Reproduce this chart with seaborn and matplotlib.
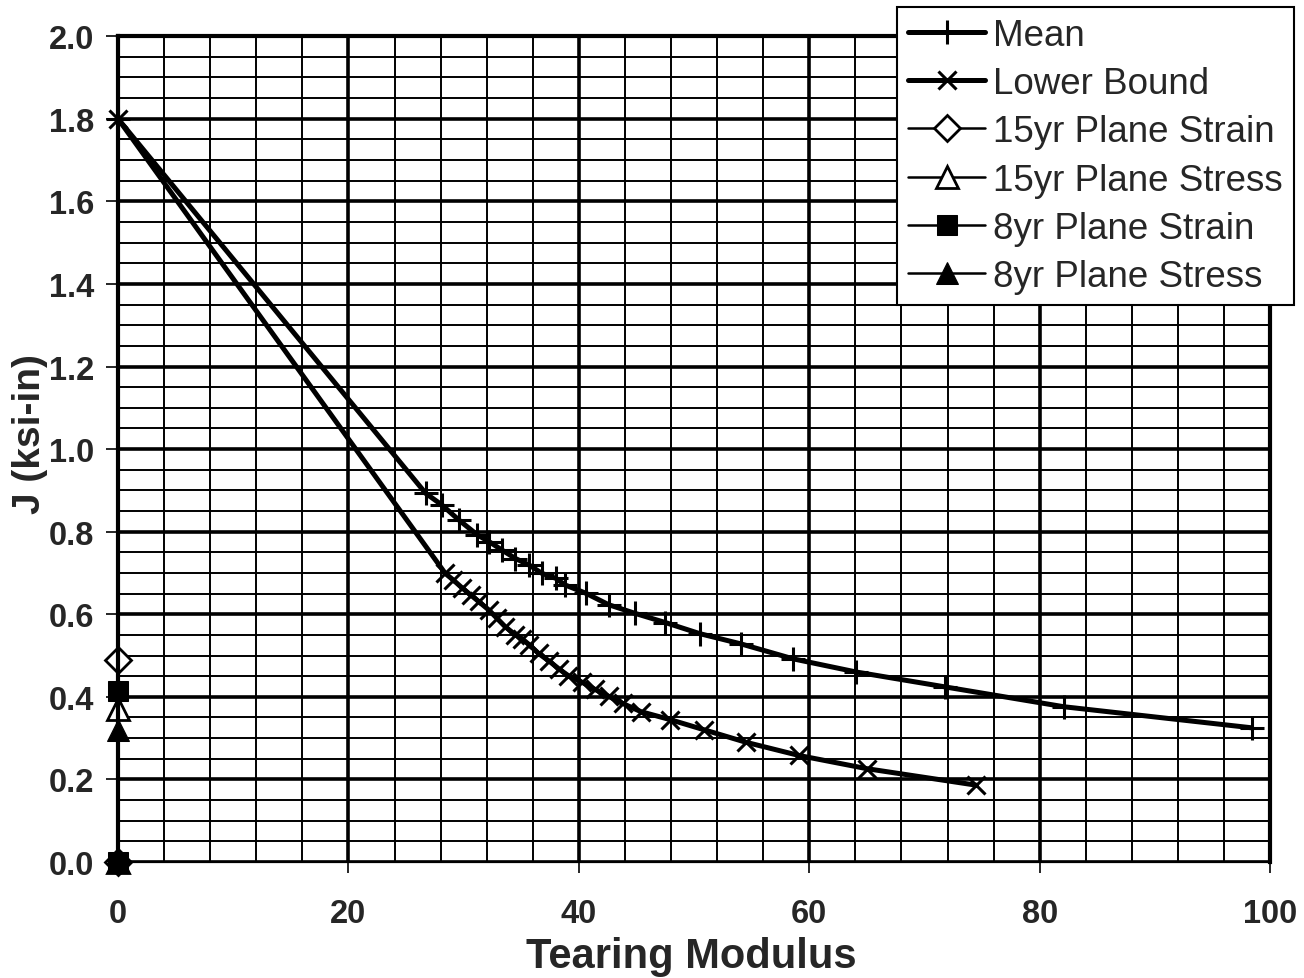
import matplotlib
matplotlib.use("Agg")
import matplotlib.pyplot as plt
import seaborn as sns
import numpy as np
from matplotlib.ticker import MultipleLocator

# Mean J-T curve
mean_T = [0, 26.7, 28.1, 29.6, 31.2, 32.2, 33.3, 34.5, 35.7, 36.8, 38.0, 38.8,
          40.6, 42.6, 44.9, 47.5, 50.5, 54.1, 58.6, 64.1, 71.8, 82.1, 98.4]
mean_J = [1.8, 0.893, 0.865, 0.828, 0.792, 0.776, 0.756, 0.735, 0.719, 0.699, 0.687, 0.671,
          0.651, 0.623, 0.602, 0.580, 0.553, 0.528, 0.492, 0.460, 0.424, 0.376, 0.325]

# Lower bound J-T curve
lb_T = [0, 28.4, 29.1, 29.9, 30.6, 31.3, 32.2, 32.9, 33.6, 34.5, 35.1, 35.7, 36.5,
        37.4, 38.3, 39.1, 40.3, 41.4, 42.6, 43.8, 45.4, 47.9, 50.9, 54.5, 59.1, 65.0, 74.5]
lb_J = [1.8, 0.699, 0.683, 0.663, 0.647, 0.631, 0.610, 0.590, 0.570, 0.550, 0.540, 0.526, 0.505,
        0.487, 0.467, 0.451, 0.435, 0.418, 0.401, 0.384, 0.364, 0.345, 0.320, 0.290, 0.258, 0.226, 0.186]

# applied J at T = 0
point_T = [0, 0]
strain15_J = [0, 0.49]
stress15_J = [0, 0.37]
strain8_J = [0, 0.415]
stress8_J = [0, 0.32]

sns.set_style("white")
plt.rcParams['font.family'] = ['Liberation Sans', 'DejaVu Sans']

fig = plt.figure(figsize=(13.04, 9.79), dpi=100)
ax = fig.add_axes([0.0905, 0.1185, 0.8835, 0.8435])

common = dict(ax=ax, color="black", estimator=None, sort=False, clip_on=False)

sns.lineplot(x=mean_T, y=mean_J, label="Mean", lw=3.6, marker="+", ms=17, mew=2.2,
             mec="black", **common)
sns.lineplot(x=lb_T, y=lb_J, label="Lower Bound", lw=3.6, marker="x", ms=13, mew=2.2,
             mec="black", **common)
sns.lineplot(x=point_T, y=strain15_J, label="15yr Plane Strain", lw=1.8, marker="D", ms=13,
             mfc="white", mec="black", mew=2, **common)
sns.lineplot(x=point_T, y=stress15_J, label="15yr Plane Stress", lw=1.8, marker="^", ms=16,
             mfc="white", mec="black", mew=2, **common)
sns.lineplot(x=point_T, y=strain8_J, label="8yr Plane Strain", lw=1.8, marker="s", ms=15,
             mfc="black", mec="black", **common)
sns.lineplot(x=point_T, y=stress8_J, label="8yr Plane Stress", lw=1.8, marker="^", ms=16,
             mfc="black", mec="black", **common)

ax.set_xlim(0, 100)
ax.set_ylim(0, 2.0)
ax.xaxis.set_major_locator(MultipleLocator(20))
ax.xaxis.set_minor_locator(MultipleLocator(4))
ax.yaxis.set_major_locator(MultipleLocator(0.2))
ax.yaxis.set_minor_locator(MultipleLocator(0.05))
ax.yaxis.set_major_formatter(matplotlib.ticker.FormatStrFormatter('%.1f'))

ax.set_axisbelow(True)
ax.grid(which='major', color='black', lw=2.6)
ax.grid(which='minor', color='black', lw=1.4)

for side in ['left', 'right', 'top']:
    ax.spines[side].set_linewidth(3)
    ax.spines[side].set_color('black')
ax.spines['bottom'].set_linewidth(1.6)
ax.spines['bottom'].set_color('black')

ax.tick_params(which='minor', length=0)
ax.tick_params(axis='x', which='major', direction='out', length=8, width=1.4,
               pad=18, labelsize=23.5, bottom=True)
ax.tick_params(axis='y', which='major', direction='out', length=9, width=1.4,
               pad=8, labelsize=23.5, left=True)
for lab in ax.get_xticklabels() + ax.get_yticklabels():
    lab.set_fontweight('bold')

ax.set_xlabel("Tearing Modulus", fontsize=30, fontweight='bold')
ax.set_ylabel("J (ksi-in)", fontsize=28, fontweight='bold')
ax.xaxis.set_label_coords(0.498, -0.09)
ax.yaxis.set_label_coords(-0.061, 0.52)

handles, labels = ax.get_legend_handles_labels()
ax.get_legend().remove()
leg = fig.legend(handles, labels, loc='upper left', bbox_to_anchor=(0.688, 0.992),
                 fontsize=26.5, frameon=True, fancybox=False, edgecolor='black',
                 framealpha=1, borderaxespad=0, borderpad=0.3, labelspacing=0.36,
                 handlelength=2.1, handletextpad=0.2)
leg.get_frame().set_linewidth(1.5)

fig.savefig("out.png", dpi=100)
